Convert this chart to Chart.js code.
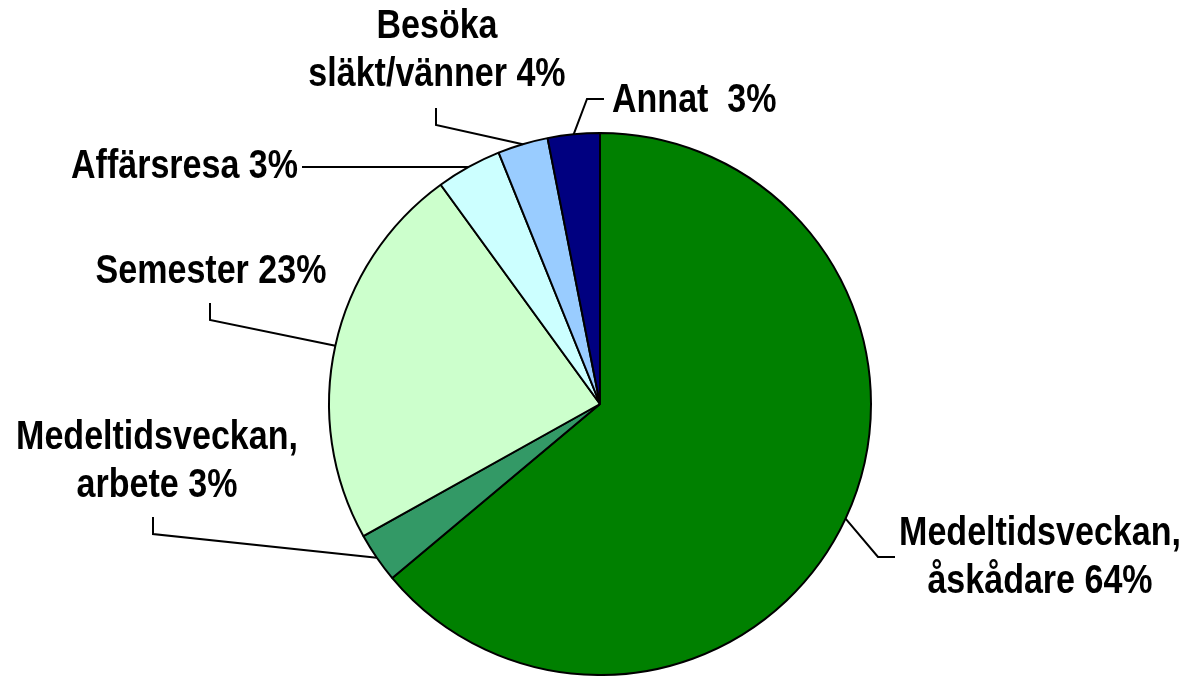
<!DOCTYPE html>
<html>
<head>
<meta charset="utf-8">
<script src="https://cdn.jsdelivr.net/npm/chart.js@4"></script>
<style>
  body { margin: 0; background: #fff; }
</style>
</head>
<body>
<canvas id="myChart" width="1185" height="676"></canvas>
<script>
// slices, clockwise from 12 o'clock
categories = ["Medeltidsveckan, åskådare", "Medeltidsveckan, arbete", "Semester", "Affärsresa", "Besöka släkt/vänner", "Annat"]
values = [63.9, 3.0, 23.1, 3.9, 3.0, 3.1]
percentLabels = ["64%", "3%", "23%", "3%", "4%", "3%"]
labelLines = [
    ["Medeltidsveckan,", "åskådare 64%"],
    ["Medeltidsveckan,", "arbete 3%"],
    ["Semester 23%"],
    ["Affärsresa 3%"],
    ["Besöka", "släkt/vänner 4%"],
    ["Annat  3%"]
]
color_palette = ["#008000", "#339966", "#ccffcc", "#ccffff", "#99ccff", "#000080"]

// label layout: text anchor, alignment, leader elbow + end
labelLayout = [
    {x: 1040, y: 545, align: 'center', path: [[878, 557], [895, 557]]},
    {x: 157, y: 449, align: 'center', path: [[153, 534], [153, 517]]},
    {x: 211, y: 283, align: 'center', path: [[210, 320], [210, 303]]},
    {x: 298, y: 178, align: 'right', path: [[302, null]]},
    {x: 437, y: 38, align: 'center', path: [[436, 125], [436, 108]]},
    {x: 612, y: 112, align: 'left', path: [[587, 99], [604, 99]]}
]

const FONT_SIZE = 41
const LINE_H = 48
const SQUEEZE = 0.83

const pieLabels = {
    id: 'pieLabels',
    afterDraw(chart) {
        const ctx = chart.ctx
        const meta = chart.getDatasetMeta(0)
        meta.data.forEach((arc, i) => {
            const lay = labelLayout[i]
            const p = arc.getProps(['x', 'y', 'startAngle', 'endAngle', 'outerRadius'])
            const mid = (p.startAngle + p.endAngle) / 2
            const ax = p.x + Math.cos(mid) * p.outerRadius
            const ay = p.y + Math.sin(mid) * p.outerRadius
            // leader line
            ctx.save()
            ctx.strokeStyle = '#000'
            ctx.lineWidth = 2
            ctx.beginPath()
            ctx.moveTo(ax, ay)
            lay.path.forEach(pt => ctx.lineTo(pt[0], pt[1] === null ? ay : pt[1]))
            ctx.stroke()
            ctx.restore()
            // text
            labelLines[i].forEach((line, j) => {
                ctx.save()
                ctx.font = 'bold ' + FONT_SIZE + 'px "Liberation Sans", Arial, sans-serif'
                ctx.fillStyle = '#000'
                ctx.textBaseline = 'alphabetic'
                ctx.textAlign = lay.align
                ctx.translate(lay.x, lay.y + j * LINE_H)
                ctx.scale(SQUEEZE, 1)
                ctx.fillText(line, 0, 0)
                ctx.restore()
            })
        })
    }
}

function plotPieChart() {
    let myChart = document.getElementById('myChart').getContext('2d');
    let pieChart = new Chart(myChart, {
        type: 'pie',
        data: {
            labels: categories,
            datasets: [
                {
                    data: values,
                    backgroundColor: color_palette,
                    borderColor: '#000',
                    borderWidth: 2
                }
            ]
        },
        options: {
            responsive: false,
            animation: false,
            devicePixelRatio: 1,
            layout: {padding: {top: 132, bottom: 0, left: 15, right: 0}},
            plugins: {
                legend: {display: false},
                tooltip: {enabled: false}
            }
        },
        plugins: [pieLabels]
    });
    return pieChart;
}

plotPieChart()
</script>
</body>
</html>
